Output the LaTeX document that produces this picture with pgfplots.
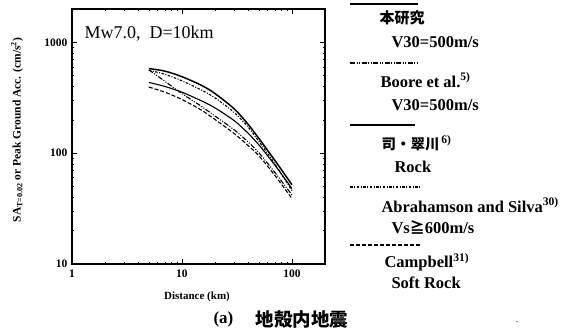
\documentclass[border=0pt]{standalone}
\usepackage{pgfplots}
\pgfplotsset{compat=1.18}
\usepackage{fontspec}
\setmainfont{Liberation Serif}
\newfontfamily\cjk{Noto Sans CJK JP}
\begin{document}
\begin{tikzpicture}[x=1pt,y=1pt]
\useasboundingbox (0,0) rectangle (573,335);
\begin{axis}[
  at={(72pt,71pt)}, anchor=south west,
  scale only axis, width=253pt, height=255pt,
  xmode=log, ymode=log,
  xmin=1, xmax=200, ymin=10, ymax=2000,
  xtick={1,10,100}, xticklabels={1,10,100},
  ytick={10,100,1000}, yticklabels={10,100,1000},
  /pgf/number format/assume math mode=true,
  tick label style={font=\bfseries\fontsize{11.5}{13}\selectfont},
  tick align=inside,
  major tick length=5pt, minor tick length=2.5pt,
  axis line style={line width=1.4pt},
  every tick/.style={black, line width=0.6pt},
  xticklabel style={yshift=-2pt},
  yticklabel style={xshift=-1pt},
]
% 司・翠川 (thick solid, upper)
\addplot[black, line width=1.5pt, smooth] coordinates {
(5,580) (7,550) (10,490) (15,410) (20,345) (30,250) (40,182) (50,136) (70,86) (100,52)};
% Abrahamson and Silva (dash-dot)
\addplot[black, line width=1.1pt, smooth, dash pattern=on 2.5pt off 1.5pt on 1pt off 1.5pt] coordinates {
(5,560) (7,515) (10,450) (15,372) (20,315) (30,232) (40,172) (50,128) (70,80) (100,46)};
% Boore et al. (dash-dot-dot)
\addplot[black, line width=1.1pt, smooth, dash pattern=on 5pt off 1.5pt on 1pt off 1.5pt on 1pt off 1.5pt] coordinates {
(5,565) (7,445) (10,345) (15,265) (20,216) (30,162) (40,126) (50,101) (70,67) (100,42)};
% 本研究 (solid)
\addplot[black, line width=1.1pt, smooth] coordinates {
(5,435) (7,400) (10,355) (15,297) (20,256) (30,196) (40,151) (50,119) (70,78) (100,48)};
% Campbell (dashed)
\addplot[black, line width=1.1pt, smooth, dash pattern=on 4pt off 2pt] coordinates {
(5,395) (7,355) (10,305) (15,245) (20,201) (30,150) (40,117) (50,95) (70,63) (100,39)};
\end{axis}
% title inside axis
\node[anchor=west, font=\fontsize{18}{20}\selectfont] at (81,301) {Mw7.0,\ \ D=10km};
% axis labels
\node[font=\bfseries\fontsize{11}{13}\selectfont] at (197,38) {Distance (km)};
\node[rotate=90, font=\bfseries\fontsize{11.5}{13}\selectfont] at (17,205) {SA\textsubscript{T=0.02} or Peak Ground Acc. (cm/s\textsuperscript{2})};
% legend
\begin{scope}[font=\bfseries\fontsize{16.5}{19}\selectfont]
\draw[line width=1.1pt] (350,331) -- (418,331);
\node[anchor=west, font=\cjk\bfseries\fontsize{15}{17}\selectfont] at (376,317) {本研究};
\node[anchor=west] at (388,293) {V30=500m/s};
\draw[line width=1.1pt, dash pattern=on 5pt off 1.5pt on 1pt off 1.5pt on 1pt off 1.5pt] (350,272) -- (418,272);
\node[anchor=west] at (377,255) {Boore et al.\textsuperscript{5)}};
\node[anchor=west] at (388,230) {V30=500m/s};
\draw[line width=1.6pt] (350,210) -- (415,210);
\node[anchor=west] at (378,192) {{\cjk\bfseries\fontsize{14.5}{16}\selectfont 司・翠川}\textsuperscript{\,6)}};
\node[anchor=west] at (391,168) {Rock};
\draw[line width=1.1pt, dash pattern=on 2.5pt off 1.5pt on 1pt off 1.5pt] (350,148) -- (420,148);
\node[anchor=west] at (378,130) {Abrahamson and Silva\textsuperscript{30)}};
\node[anchor=west] at (388,108) {Vs{\cjk\bfseries\fontsize{15}{16}\selectfont ≧}600m/s};
\draw[line width=1.1pt, dash pattern=on 4pt off 2pt] (350,90) -- (420,90);
\node[anchor=west] at (381,73) {Campbell\textsuperscript{31)}};
\node[anchor=west] at (388,52) {Soft Rock};
\end{scope}
% caption
\node[anchor=west, font=\bfseries\fontsize{17}{20}\selectfont] at (210,16) {(a)};
\node[anchor=west, font=\cjk\bfseries\fontsize{18.5}{20}\selectfont] at (252,16) {地殻内地震};
\node at (517,13) {.};
\end{tikzpicture}
\end{document}
